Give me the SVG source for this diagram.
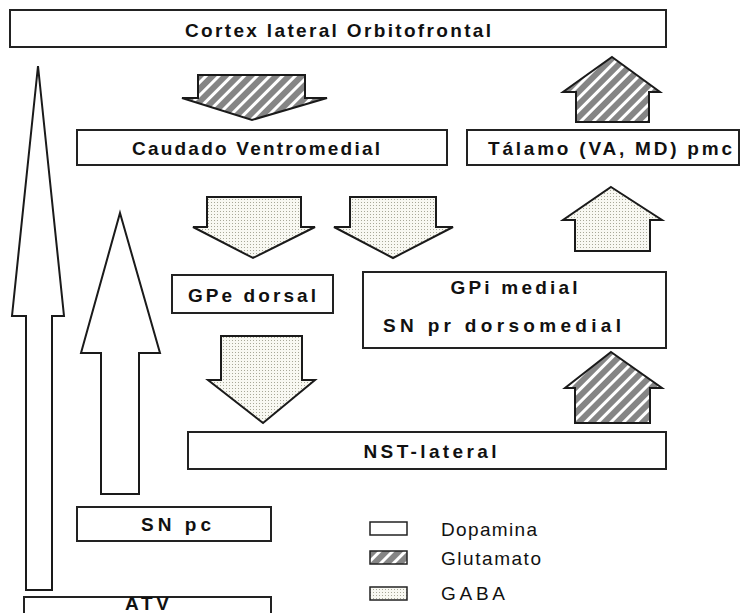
<svg xmlns="http://www.w3.org/2000/svg" width="744" height="613" viewBox="0 0 744 613">
  <style>
    .box { fill: #ffffff; stroke: #222222; stroke-width: 2; }
    .arrow { stroke: #1a1a1a; stroke-width: 2; stroke-linejoin: miter; }
    .dopa { fill: #ffffff; }
    .glu { fill: url(#hatch); }
    .gaba { fill: url(#dots); }
    .lbl { font-family: "Liberation Sans", Arial, sans-serif; font-weight: bold; font-size: 19px; fill: #111111; text-anchor: middle; }
    .leg { font-family: "Liberation Sans", Arial, sans-serif; font-size: 19px; fill: #111111; }
    .key { stroke: #222222; stroke-width: 1.5; }
  </style>
  <defs>
    <!-- diagonal white stripes on grey: glutamate -->
    <pattern id="hatch" width="9" height="9" patternUnits="userSpaceOnUse" patternTransform="rotate(45)">
      <rect width="9" height="9" fill="#858585"/>
      <rect width="3" height="9" fill="#ffffff"/>
    </pattern>
    <!-- fine dot grid on pale ground: GABA -->
    <pattern id="dots" width="3" height="3" patternUnits="userSpaceOnUse">
      <rect width="3" height="3" fill="#f8f8f2"/>
      <rect x="1" y="1" width="1" height="1" fill="#a8a898"/>
    </pattern>
  </defs>

  <!-- nodes -->
  <g id="cortex">
    <rect class="box" x="10" y="10" width="656" height="37"/>
    <text class="lbl" x="338" y="37" font-size="22" textLength="306" lengthAdjust="spacing">Cortex lateral Orbitofrontal</text>
  </g>
  <g id="caudado">
    <rect class="box" x="77" y="130" width="370" height="35"/>
    <text class="lbl" x="256" y="155" textLength="248" lengthAdjust="spacing">Caudado Ventromedial</text>
  </g>
  <g id="talamo">
    <rect class="box" x="467" y="130" width="272" height="35"/>
    <text class="lbl" x="610" y="155" font-size="20" textLength="244" lengthAdjust="spacing">Tálamo (VA, MD) pmc</text>
  </g>
  <g id="gpe">
    <rect class="box" x="172" y="275" width="161" height="38"/>
    <text class="lbl" x="252" y="302" textLength="128" lengthAdjust="spacing">GPe dorsal</text>
  </g>
  <g id="gpi">
    <rect class="box" x="363" y="272" width="303" height="76"/>
    <text class="lbl" x="514" y="294" textLength="127" lengthAdjust="spacing">GPi medial</text>
    <text class="lbl" x="502" y="332" textLength="238" lengthAdjust="spacing">SN pr dorsomedial</text>
  </g>
  <g id="nst">
    <rect class="box" x="188" y="432" width="478" height="37"/>
    <text class="lbl" x="430" y="458" textLength="133" lengthAdjust="spacing">NST-lateral</text>
  </g>
  <g id="snpc">
    <rect class="box" x="77" y="507" width="194" height="34"/>
    <text class="lbl" x="176" y="531" textLength="70" lengthAdjust="spacing">SN pc</text>
  </g>
  <g id="atv">
    <!-- box runs past the lower page edge: only top and sides show -->
    <path class="box" d="M24,614 V597 H271 V614"/>
    <text class="lbl" x="147" y="609.5" font-size="13" textLength="44" lengthAdjust="spacing">ATV</text>
  </g>

  <!-- connectors: block arrows -->
  <g id="connectors">
    <path class="arrow dopa" d="M38,66 L64,316 H52 V590 H26 V316 H12 Z"/>
    <path class="arrow dopa" d="M120,213 L160,353 H139 V494 H101 V353 H81 Z"/>
    <path class="arrow glu" d="M198,75 H305 V98 H327 L252,120 L182,98 H198 Z"/>
    <path class="arrow glu" d="M612,57 L660,92 H649 V122 H576 V92 H563 Z"/>
    <path class="arrow gaba" d="M207,197 H301 V227 H315 L253,258 L193,227 H207 Z"/>
    <path class="arrow gaba" d="M350,197 H436 V227 H453 L393,258 L334,227 H350 Z"/>
    <path class="arrow gaba" d="M611,187 L662,220 H650 V251 H575 V220 H563 Z"/>
    <path class="arrow gaba" d="M221,336 H302 V380 H315 L263,423 L208,380 H221 Z"/>
    <path class="arrow glu" d="M611,352 L662,388 H650 V423 H575 V388 H565 Z"/>
  </g>

  <!-- legend -->
  <g id="legend">
    <rect class="key" x="370" y="522" width="37" height="13" fill="#ffffff"/>
    <text class="leg" x="441" y="536" textLength="96" lengthAdjust="spacing">Dopamina</text>
    <rect class="key" x="370" y="551" width="37" height="13" fill="url(#hatch)"/>
    <text class="leg" x="441" y="565" textLength="100" lengthAdjust="spacing">Glutamato</text>
    <rect class="key" x="370" y="587" width="37" height="13" fill="url(#dots)"/>
    <text class="leg" x="441" y="600" textLength="64" lengthAdjust="spacing">GABA</text>
  </g>
</svg>
